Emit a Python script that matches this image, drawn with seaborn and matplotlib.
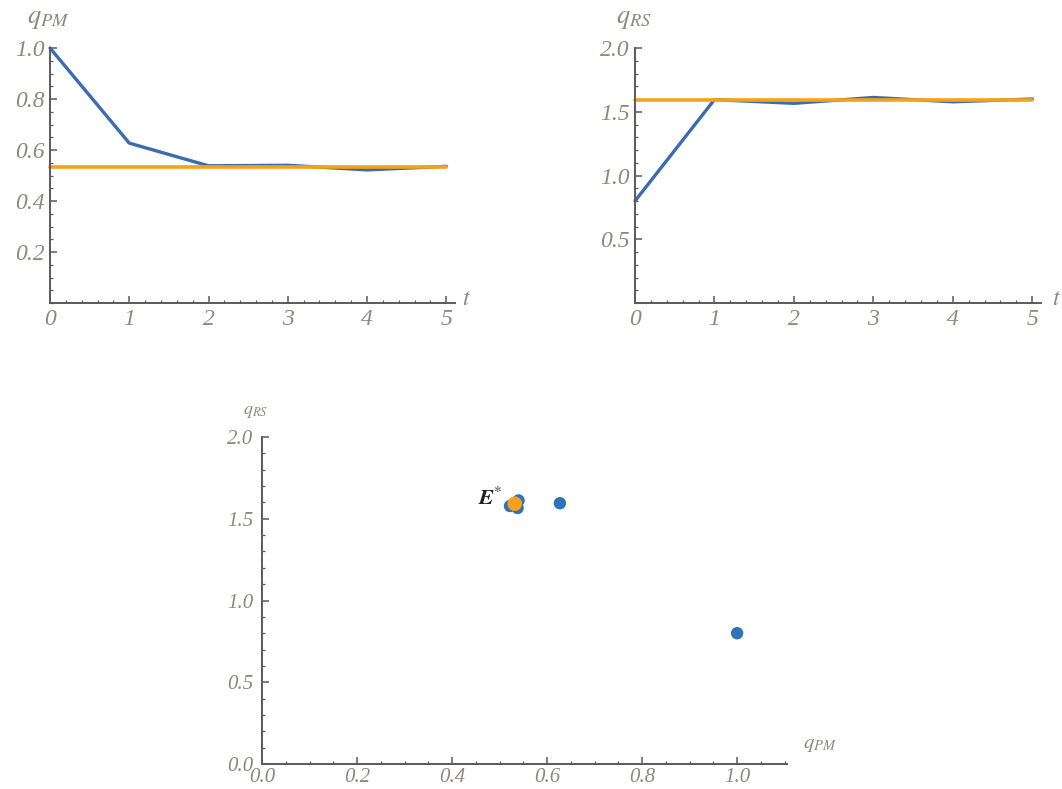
import numpy as np
import pandas as pd
import matplotlib
matplotlib.use("Agg")
import matplotlib.pyplot as plt
import seaborn as sns
from matplotlib.ticker import MultipleLocator

# data
t = [0, 1, 2, 3, 4, 5]
q_pm = [1.0, 0.627, 0.538, 0.540, 0.522, 0.536]
q_rs = [0.80, 1.595, 1.566, 1.612, 1.578, 1.600]
eq_pm = 0.532  # E*
eq_rs = 1.592

ticks_pm = ["0.2", "0.4", "0.6", "0.8", "1.0"]
ticks_rs = ["0.5", "1.0", "1.5", "2.0"]
ticks_x3 = ["0.0", "0.2", "0.4", "0.6", "0.8", "1.0"]
ticks_y3 = ["0.0", "0.5", "1.0", "1.5", "2.0"]

blue = "#3b6cb0"
dot_blue = "#2f74b8"
orange = "#f6a11a"
axis_col = "#5a5a5a"
label_col = "#8d8883"

sns.set_style("ticks")
plt.rcParams["font.family"] = ["Liberation Serif", "DejaVu Serif"]
plt.rcParams["mathtext.fontset"] = "stix"

df = pd.DataFrame({"t": t, "q_pm": q_pm, "q_rs": q_rs})
df["eq_pm"] = eq_pm
df["eq_rs"] = eq_rs

fig = plt.figure(figsize=(10.62, 7.89), dpi=100)
W, H = 1062, 789


def style_axes(ax, xt, xl, xmin, yt, yl, ymin, fs):
    # mathematica-like axes: left/bottom only, inward ticks, italic gray numbers
    for s in ["top", "right"]:
        ax.spines[s].set_visible(False)
    for s in ["left", "bottom"]:
        ax.spines[s].set_color(axis_col)
        ax.spines[s].set_linewidth(1.4)
    ax.set_xticks(xt)
    ax.set_xticklabels(xl, fontstyle="italic", fontfamily="Liberation Serif")
    ax.set_yticks(yt)
    ax.set_yticklabels(yl, fontstyle="italic", fontfamily="Liberation Serif")
    ax.xaxis.set_minor_locator(MultipleLocator(xmin))
    ax.yaxis.set_minor_locator(MultipleLocator(ymin))
    ax.tick_params(which="major", direction="in", length=5, width=1.1, color=axis_col,
                   labelsize=fs, labelcolor=label_col, pad=4)
    ax.tick_params(which="minor", direction="in", length=2.5, width=0.9, color=axis_col)
    ax.set_xlabel("")
    ax.set_ylabel("")


# top left: q_PM over t
ax1 = fig.add_axes([50 / W, 1 - 303 / H, 405 / W, 255 / H])
sns.lineplot(data=df, x="t", y="q_pm", color=blue, lw=2.4, ax=ax1, clip_on=False)
sns.lineplot(data=df, x="t", y="eq_pm", color=orange, lw=2.6, ax=ax1, clip_on=False)
ax1.set_xlim(0, 5.11)
ax1.set_ylim(0, 1.0)
style_axes(ax1, t, [str(v) for v in t], 0.2, [float(s) for s in ticks_pm], ticks_pm, 0.05, 17)
fig.text(48 / W, 1 - 20 / H, r"$q_{PM}$", fontsize=19, color=label_col, ha="center", va="center")
fig.text(466 / W, 1 - 300 / H, r"$t$", fontsize=17, color=label_col, ha="center", va="center")

# top right: q_RS over t
ax2 = fig.add_axes([635 / W, 1 - 303 / H, 406 / W, 255 / H])
sns.lineplot(data=df, x="t", y="q_rs", color=blue, lw=2.4, ax=ax2, clip_on=False)
sns.lineplot(data=df, x="t", y="eq_rs", color=orange, lw=2.6, ax=ax2, clip_on=False)
ax2.set_xlim(0, 5.11)
ax2.set_ylim(0, 2.0)
style_axes(ax2, t, [str(v) for v in t], 0.2, [float(s) for s in ticks_rs], ticks_rs, 0.1, 17)
fig.text(634 / W, 1 - 20 / H, r"$q_{RS}$", fontsize=19, color=label_col, ha="center", va="center")
fig.text(1057 / W, 1 - 300 / H, r"$t$", fontsize=17, color=label_col, ha="center", va="center")

# bottom: phase plane
ax3 = fig.add_axes([262 / W, 1 - 764 / H, 525 / W, 327 / H])
sns.scatterplot(data=df, x="q_pm", y="q_rs", color=dot_blue, s=80, edgecolor="none", ax=ax3)
sns.scatterplot(x=[eq_pm], y=[eq_rs], color=orange, s=110, edgecolor="none", ax=ax3, zorder=5)
ax3.set_xlim(0, 1.105)
ax3.set_ylim(0, 2.0)
style_axes(ax3, [float(s) for s in ticks_x3], ticks_x3, 0.05,
           [float(s) for s in ticks_y3], ticks_y3, 0.1, 15)
ax3.tick_params(axis="x", pad=3)
ax3.tick_params(axis="y", pad=6)
ax3.text(eq_pm - 0.025, eq_rs + 0.03, r"$\mathbfit{E}^{*}$", fontsize=16, color="#222222",
         ha="right", va="center")
fig.text(256 / W, 1 - 412 / H, r"$q_{RS}$", fontsize=13, color=label_col, ha="center", va="center")
fig.text(820 / W, 1 - 744 / H, r"$q_{PM}$", fontsize=15, color=label_col, ha="center", va="center")

fig.savefig("out.png", dpi=100)
